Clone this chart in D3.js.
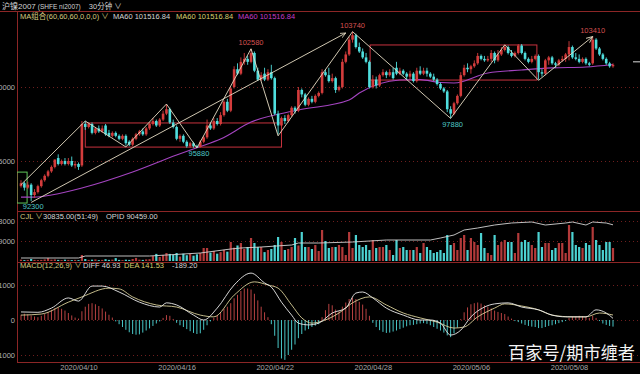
<!DOCTYPE html>
<html>
<head>
<meta charset="utf-8">
<script src="https://cdn.jsdelivr.net/npm/d3@7"></script>
<style>
html,body{margin:0;padding:0;background:#000;overflow:hidden}
svg{display:block;font-family:"Liberation Sans",Arial,"Noto Sans CJK SC",sans-serif}
</style>
</head>
<body>
<div id="chart"></div>
<script>
"use strict";
// K线 [开, 高, 低, 收]
const candles = [
[93300,93700,93200,93500],[93500,93600,93000,93200],[93200,93600,93100,93400],[93400,93500,92300,92700],
[92700,93100,92500,92900],[92900,93400,92800,93300],[93300,93800,93200,93700],[93700,94100,93600,94000],
[94000,94400,93900,94300],[94300,94700,94200,94600],[94600,95100,94500,95100],[95200,95450,94700,94800],
[94800,95100,94700,95000],[95000,95200,94700,94800],[94800,95200,94700,95000],[95000,95300,94600,94700],
[94700,95000,94500,94800],[94800,94900,94400,94600],[94700,97700,94600,97500],[97500,97700,97100,97300],
[97300,97600,97200,97500],[97500,97600,96800,96900],[96900,97300,96800,97200],[97200,97400,96900,97000],
[97000,97400,96900,97200],[97400,97500,96700,96800],[96900,97100,96600,96700],[96700,97000,96600,96900],
[96900,97000,96600,96700],[96700,96800,96400,96500],[96500,96800,96400,96700],[96700,96800,96050,96200],
[96300,96400,96000,96100],[96100,96600,96000,96500],[96500,96900,96400,96800],[96800,97100,96700,97000],
[97000,97200,96700,96800],[96800,97300,96700,97200],[97200,97600,97100,97500],[97500,97900,97400,97700],
[97700,97800,97300,97400],[97400,97900,97300,97800],[97800,98400,97700,98200],[98200,98850,98100,98500],
[98500,98600,97500,97600],[97600,97800,97200,97300],[97300,97400,96400,96500],[96500,96800,96300,96700],
[96700,96800,96200,96300],[96300,96400,95900,96000],[96000,96300,95900,96200],[96200,96300,95900,96000],
[96000,96100,95880,95950],[95950,96400,95900,96300],[96300,96700,96200,96600],[96600,97800,96500,97400],
[97400,97600,97100,97200],[97200,97900,97100,97700],[97700,97900,97400,97500],[97500,98300,97400,98100],
[98100,99100,98000,99000],[99000,99200,98300,98400],[98400,100000,98300,99900],[100000,101400,99900,101200],
[101200,101600,100800,100900],[100900,102000,100800,101700],[101700,102300,101500,101900],[101900,102100,101500,101700],
[101700,102580,101600,102300],[102300,102400,101000,101100],[101100,101300,100400,100500],[100500,101000,100400,100800],
[100900,101300,100400,100500],[100500,101200,100400,101000],[101000,101500,100500,100600],[100600,100700,98100,98200],
[98200,98400,96800,97400],[97400,98000,97300,97900],[97900,98100,97500,97700],[97700,98200,97600,98100],
[98100,98700,98000,98600],[98600,98700,98200,98400],[98400,100000,98300,99800],[99800,99900,99300,99500],
[99500,99600,98700,98800],[98800,99300,98700,99200],[99200,99400,98900,99000],[99000,99500,98900,99400],
[99400,99700,99300,99600],[99600,101200,99500,101000],[101000,101200,100700,100800],[100800,101300,100300,100400],
[100400,100900,100300,100600],[100600,100700,99600,99800],[99800,100100,99700,100000],[100000,101900,99900,101700],
[101700,102400,101600,102200],[102200,103400,102100,103200],[103200,103740,103000,103500],[103500,103600,102600,102700],
[102700,103000,102300,102400],[102400,102600,101900,102000],[102000,102300,101600,101700],[101700,101800,99900,100000],
[100000,100800,99900,100500],[100500,100700,99900,100100],[100100,100900,100000,100800],[100800,101200,100700,101000],
[101000,101100,100600,100800],[100800,101200,100700,101000],[101000,101300,100500,100600],[101300,101700,100800,100900],
[100900,101300,100800,101100],[101100,101200,100800,100900],[100900,101000,100500,100700],[100700,101100,100500,100900],
[100900,101000,100300,100400],[100400,101300,100300,101100],[101100,101400,100800,100900],[100900,101300,100800,101100],
[101100,101300,100700,100900],[100900,101000,100600,100700],[100700,100900,100400,100500],[100500,100600,100100,100200],
[100200,100300,99800,99900],[99900,100000,99600,99700],[99700,99800,98300,98500],[98500,98700,97880,98200],
[98200,99000,98100,98900],[98900,99500,98800,99400],[99400,101000,99300,100800],[100800,101500,100700,101300],
[101300,101600,101000,101200],[101200,101500,100900,101400],[101400,101800,101300,101600],[101600,102300,101500,102100],
[102100,102200,101800,101900],[101900,102100,101700,101800],[101800,102100,101700,101900],[101900,102500,101700,102300],
[102300,102400,101600,101800],[101800,102500,101700,102200],[102200,102700,102100,102500],[102500,102850,102400,102700],
[102700,102800,102200,102300],[102300,102500,102000,102100],[102100,102400,102000,102300],[102300,102900,102200,102800],
[102800,102900,102200,102300],[102300,102400,101800,101900],[101900,102000,101600,101700],[101700,102100,101600,101900],
[101900,102200,101800,102100],[102100,102200,100500,101000],[101000,101200,100700,100900],[100900,101900,100800,101800],
[101800,102100,101500,102000],[102000,102100,101500,101600],[101600,101700,101300,101500],[101500,101900,101400,101800],
[101800,102100,101700,101900],[101900,102300,101700,102200],[102200,103100,101800,102700],[102700,102800,101900,102000],
[102000,102300,101800,101900],[101900,102200,101600,101700],[101700,102000,101600,101900],[101900,102000,101500,101600],
[101600,101700,101400,101500],[101600,103410,101500,103200],[103200,103300,102500,102600],[102600,102700,102100,102200],
[102200,102300,101800,101900],[101900,102000,101500,101600],[101600,101700,101300,101400],[101400,101600,101300,101500]
];
// 成交量
const volumes = [
600,400,500,900,500,400,500,700,1300,600,700,500,400,600,500,400,500,400,
2700,
900,500,600,700,400,500,800,500,600,1300,500,400,600,500,900,1400,600,500,700,800,
2200,3200,1800,2700,3600,3200,2800,3600,2000,3300,2600,3200,2400,3000,
3600,5850,5850,3800,4500,3300,4000,5000,4200,8550,6000,7000,8100,5400,6300,10350,8100,6300,
6300,4000,4950,5400,7200,10800,8550,4950,5400,6300,10350,7000,13050,6300,6300,5400,7200,4500,13950,9000,
5850,6300,6300,7200,6300,2700,13050,5850,11700,7200,6300,7200,4950,9450,5850,6300,6300,7200,4950,2700,
9450,5850,6300,4950,4950,4950,6300,3600,8100,6300,4950,3600,4050,4950,3600,11700,7200,8100,4950,10350,
11700,4950,10350,8550,7200,12600,5850,3600,2700,11700,7200,8550,9450,8550,8550,3600,12600,8550,9450,8550,
7200,5850,13050,6300,8100,8100,4950,5850,8100,8100,3600,16200,13050,7200,6300,5850,8100,7200,15300,9450,7200,4950,8550,8550,5850
];
// 持仓量 OPID [bar, 值]
const opidPts = [[0,7500],[17,7500],[19,12500],[38,12500],[53,20000],[62,30000],[65,32500],[71,35000],[80,40000],
[82,45000],[88,45000],[98,47500],[108,52500],[121,52500],[124,57500],[128,65000],[131,77500],[135,82500],[140,90000],
[145,95000],[151,97500],[155,90000],[161,95000],[163,97500],[167,90000],[169,97500],[173,95000],[175,90459]];
// MACD 柱
const macdHist = [
150,180,160,130,100,80,120,170,230,290,
340,360,320,270,200,130,70,40,250,380,
460,480,450,400,330,240,150,70,-40,-120,
-200,-280,-350,-400,-420,-410,-360,-300,-240,-170,
-100,-40,60,140,120,30,-80,-150,-200,-260,
-320,-370,-400,-380,-280,-150,-40,60,140,220,
320,380,480,620,720,830,900,900,870,750,
560,380,220,80,-120,-450,-800,-1100,-1140,-1000,
-850,-700,-520,-400,-300,-260,-200,-160,-120,80,
280,460,420,300,250,380,500,600,640,600,
520,440,320,120,-80,-200,-290,-340,-370,-360,
-330,-300,-260,-220,-180,-150,-140,-120,-100,-90,
-110,-150,-200,-250,-300,-360,-440,-490,-380,-220,
30,220,360,450,480,500,470,420,380,330,
270,230,200,170,100,40,-30,-60,-100,-140,
-170,-190,-200,-230,-230,-200,-170,-150,-120,-90,
-60,-30,60,100,110,120,110,90,60,120,
60,-30,-100,-140,-170,-189
];
const diffPts = [[0,230],[5,220],[9,340],[14,630],[17,540],[21,970],[24,970],[29,800],[35,510],[41,370],[43,490],
[46,430],[51,140],[54,0],[58,340],[63,1000],[68,1340],[72,1060],[74,940],[77,510],[80,140],[82,-90],[85,-140],
[88,-90],[92,200],[96,340],[99,770],[101,800],[104,630],[108,340],[113,140],[118,0],[121,0],[124,-90],[127,-430],
[130,-290],[133,90],[137,370],[140,460],[144,490],[148,370],[153,290],[157,140],[161,90],[164,90],[167,90],
[170,290],[173,200],[175,47]];
const deaPts = [[0,140],[6,170],[14,510],[18,660],[26,910],[29,890],[33,660],[40,430],[46,370],[53,140],[57,90],
[63,710],[69,1090],[73,1000],[76,910],[80,430],[83,60],[86,-90],[88,-60],[94,200],[98,490],[103,660],[108,430],
[113,200],[118,60],[123,-60],[128,-230],[131,-200],[135,90],[140,340],[143,460],[148,400],[153,290],[157,140],
[163,90],[167,90],[171,200],[175,142]];
const ma60Pts = [[0,92560],[4,92560],[9,92700],[18,93170],[33,94250],[46,95400],[52,95900],[59,96480],[68,97630],
[82,98440],[97,99120],[100,99590],[112,100470],[118,100500],[124,100300],[128,100270],[138,100950],[148,101150],
[157,101290],[167,101350],[175,101517]];
// 笔 / 线段
const zigzag = [[0,93400],[19,97700],[31,95950],[43,98850],[52,95880],[68,102580],[76,96700],[98,103740],
[127,97880],[143,102850],[153,100450],[169,103410]];
const trendLine = [[3,92200],[96,103650]];
const boxes = [{from:19,to:77,top:97570,bottom:95940},{from:103.2,to:152.5,top:102840,bottom:100470}];
const greenBox = {from:-1.2,to:1.8,top:94250,bottom:92160};
const highLabels = [[68,102580],[98,103740],[169,103410]];
const lowLabels = [[52,95880],[127,97880],[3,92300]];
const lastPrice = 101700;
const dateLabels = ["2020/04/10","2020/04/16","2020/04/22","2020/04/28","2020/05/06","2020/05/08"];
const dateIdx = [17,46,75,104,133,162];
const priceTicks = [95000,100000];
const volTicks = [9000,18000];
const macdTicks = [-1000,0,1000];

const W = 640, H = 374, left = 17;
const RED = '#d43c3c', CYAN = '#4fdede', AXIS = '#8c2626', GRID = '#6e1e1e';
const svg = d3.select('#chart').append('svg').attr('width',W).attr('height',H);
svg.append('rect').attr('width',W).attr('height',H).attr('fill','#000');

const x = d3.scaleLinear().domain([0,candles.length-1]).range([21,613]);
const yP = d3.scaleLinear().domain([95000,100000]).range([161,87]);
const yV = d3.scaleLinear().domain([0,18000]).range([261,221]);
const yO = d3.scaleLinear().domain([0,100000]).range([261,221]);
const yM = d3.scaleLinear().domain([-1000,1000]).range([355,285]);

svg.append('clipPath').attr('id','clipMain').append('rect').attr('x',left).attr('y',11).attr('width',W-left).attr('height',200);

// grilles pointillées
function grid(scale, ticks) {
    svg.append('g').selectAll('line').data(ticks).enter().append('line')
        .attr('x1',left).attr('x2',W).attr('y1',d=>Math.round(scale(d))+.5).attr('y2',d=>Math.round(scale(d))+.5)
        .attr('stroke',GRID).attr('stroke-dasharray','1,3');
}
grid(yP, priceTicks); grid(yV, volTicks); grid(yM, macdTicks);

// cadres
[[0,W,11.5],[left,W,211.5],[left,W,262.5],[left,W,362.5]].forEach(l=>{
    svg.append('line').attr('x1',l[0]).attr('x2',l[1]).attr('y1',l[2]).attr('y2',l[2]).attr('stroke',AXIS);
});
svg.append('line').attr('x1',left+.5).attr('x2',left+.5).attr('y1',11).attr('y2',362).attr('stroke',AXIS);

function leftAxis(scale, ticks) {
    let g = svg.append('g').attr('transform',`translate(${left},0)`)
        .call(d3.axisLeft(scale).tickValues(ticks).tickSize(0).tickPadding(2).tickFormat(d3.format('d')));
    g.select('.domain').remove();
    g.attr('font-size',7.5).attr('font-family',null);
    g.selectAll('text').attr('fill','#b4b4b4');
}
leftAxis(yP, priceTicks); leftAxis(yV, volTicks); leftAxis(yM, macdTicks);

const gx = svg.append('g').attr('transform','translate(0,362)')
    .call(d3.axisBottom(x).tickValues(dateIdx).tickSize(0).tickPadding(3).tickFormat((d,k)=>dateLabels[k]));
gx.select('.domain').remove();
gx.attr('font-size',7.5).attr('font-family',null);
gx.selectAll('text').attr('fill','#a8a8a8');

const main = svg.append('g').attr('clip-path','url(#clipMain)');

// boîtes
main.selectAll('rect.box').data(boxes).enter().append('rect').attr('class','box')
    .attr('x',d=>x(d.from)).attr('width',d=>x(d.to)-x(d.from))
    .attr('y',d=>yP(d.top)).attr('height',d=>yP(d.bottom)-yP(d.top))
    .attr('fill','none').attr('stroke','#c8323e').attr('stroke-width',1);
main.append('rect').attr('x',x(greenBox.from)).attr('width',x(greenBox.to)-x(greenBox.from))
    .attr('y',yP(greenBox.top)).attr('height',yP(greenBox.bottom)-yP(greenBox.top))
    .attr('fill','none').attr('stroke','#5fc85a');

// MA60
main.append('path').datum(ma60Pts)
    .attr('d',d3.line().x(d=>x(d[0])).y(d=>yP(d[1])).curve(d3.curveMonotoneX))
    .attr('fill','none').attr('stroke','#a444c0').attr('stroke-width',1.1);

// bougies
const up = d => d[3] >= d[0];
const gC = main.selectAll('g.c').data(candles).enter().append('g').attr('class','c');
gC.append('line').attr('x1',(d,i)=>x(i)).attr('x2',(d,i)=>x(i))
    .attr('y1',d=>yP(d[1])).attr('y2',d=>yP(d[2]))
    .attr('stroke',d=>up(d)?RED:CYAN).attr('stroke-width',0.9);
gC.append('rect').attr('x',(d,i)=>x(i)-1.3).attr('width',2.6)
    .attr('y',d=>yP(Math.max(d[0],d[3])))
    .attr('height',d=>Math.max(0.8,Math.abs(yP(d[0])-yP(d[3]))))
    .attr('fill',d=>up(d)?RED:CYAN);

// flèches
const defs = svg.append('defs');
defs.append('marker').attr('id','arr').attr('viewBox','0 0 10 10').attr('refX',9).attr('refY',5)
    .attr('markerWidth',7).attr('markerHeight',7).attr('orient','auto')
    .append('path').attr('d','M0,1 L9,5 L0,9').attr('fill','none').attr('stroke','#e6dcc4').attr('stroke-width',1.2);

const lineP = d3.line().x(d=>x(d[0])).y(d=>yP(d[1]));
main.append('path').datum(zigzag).attr('d',lineP)
    .attr('fill','none').attr('stroke','#e6dcc4').attr('stroke-width',0.9);
main.append('path').datum(trendLine).attr('d',lineP)
    .attr('fill','none').attr('stroke','#e6dcc4').attr('stroke-width',0.9).attr('marker-end','url(#arr)');
main.append('path').datum(zigzag.slice(-2)).attr('d',lineP)
    .attr('fill','none').attr('stroke','none').attr('marker-end','url(#arr)');

// étiquettes hauts / bas
main.selectAll('text.hi').data(highLabels).enter().append('text').attr('class','hi')
    .attr('x',d=>x(d[0])).attr('y',d=>yP(d[1])-3.5).attr('text-anchor','middle')
    .attr('font-size',7.5).attr('fill','#d65050').text(d=>d[1]);
main.selectAll('text.lo').data(lowLabels).enter().append('text').attr('class','lo')
    .attr('x',d=>x(d[0])+2).attr('y',d=>yP(d[1])+8.5).attr('text-anchor','middle')
    .attr('font-size',7.5).attr('fill','#4ec6c6').text(d=>d[1]);

// prix courant
svg.append('line').attr('x1',633).attr('x2',640).attr('y1',yP(lastPrice)).attr('y2',yP(lastPrice))
    .attr('stroke','#dddddd');

// volume
svg.append('g').selectAll('rect').data(volumes).enter().append('rect')
    .attr('x',(d,i)=>x(i)-1.1).attr('width',2.2)
    .attr('y',d=>yV(d)).attr('height',d=>Math.max(0.6,yV(0)-yV(d)))
    .attr('fill',(d,i)=>up(candles[i])?'#b33a3a':'#4cd2d2');
svg.append('path').datum(opidPts)
    .attr('d',d3.line().x(d=>x(d[0])).y(d=>yO(d[1])))
    .attr('fill','none').attr('stroke','#d4d4d4').attr('stroke-width',0.9);

// MACD
svg.append('g').selectAll('line').data(macdHist).enter().append('line')
    .attr('x1',(d,i)=>x(i)).attr('x2',(d,i)=>x(i))
    .attr('y1',yM(0)).attr('y2',d=>yM(d))
    .attr('stroke',d=>d>=0?'#b84242':'#48c6c6').attr('stroke-width',1);
const lineM = d3.line().x(d=>x(d[0])).y(d=>yM(d[1])).curve(d3.curveMonotoneX);
svg.append('path').datum(deaPts).attr('d',lineM).attr('fill','none').attr('stroke','#d8cf98').attr('stroke-width',0.9);
svg.append('path').datum(diffPts).attr('d',lineM).attr('fill','none').attr('stroke','#ececec').attr('stroke-width',0.9);

// titres et légendes
function legend(y, items) {
    items.forEach(it=>{
        svg.append('text').attr('x',it[2]).attr('y',y).attr('font-size',7.5).attr('fill',it[1]).text(it[0]);
    });
}
const title = svg.append('text').attr('x',2).attr('y',8.5).attr('fill','#d2d2d2');
title.append('tspan').attr('font-size',8).text('沪镍2007');
title.append('tspan').attr('font-size',6.5).attr('dx',2).text('(SHFE ni2007)');
title.append('tspan').attr('font-size',7.5).attr('dx',8).text('30分钟 ∨');

legend(18.5, [['MA组合(60,60,60,0,0,0) ∨','#d4cb80',20],['MA60 101516.84','#d6d6d6',113],
    ['MA60 101516.84','#d8d070',176],['MA60 101516.84','#c23ec8',238]]);
legend(219, [['CJL ∨','#d4cb80',20],['30835.00(51:49)','#d6d6d6',43],['OPID 90459.00','#d6d6d6',106]]);
legend(268, [['MACD(12,26,9) ∨','#d4cb80',20],['DIFF 46.93','#d6d6d6',83],['DEA 141.53','#d8d070',124],['-189.20','#d6d6d6',172]]);

// filigrane
svg.append('text').attr('x',508).attr('y',359).attr('font-size',17.2)
    .attr('font-family','"Noto Sans CJK SC",sans-serif').attr('fill','#f4f4f4').text('百家号/期市缠者');
</script>
</body>
</html>
